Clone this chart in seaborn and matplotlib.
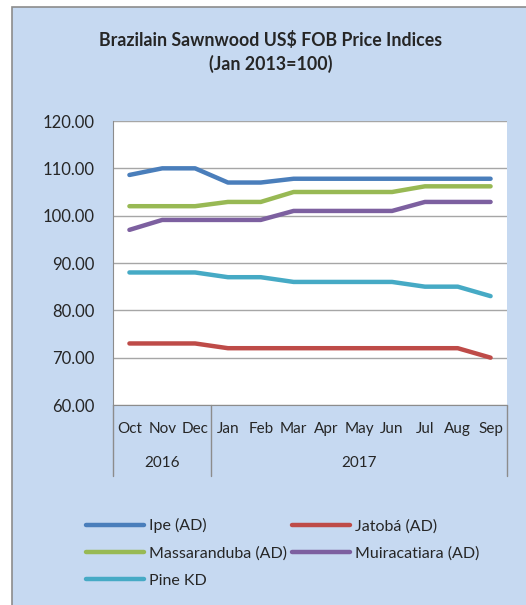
import numpy as np
import pandas as pd
import matplotlib.pyplot as plt
import matplotlib.transforms as mtransforms
from matplotlib.patches import Rectangle
import seaborn as sns

# ── data ───────────────────────────────────────
months = ["Oct", "Nov", "Dec", "Jan", "Feb", "Mar", "Apr", "May", "Jun", "Jul", "Aug", "Sep"]
years = ["2016", "2017"]
year_spans = [(0, 3), (3, 12)]

ipe          = [108.6, 110.0, 110.0, 107.0, 107.0, 107.8, 107.8, 107.8, 107.8, 107.8, 107.8, 107.8]
jatoba       = [73.0, 73.0, 73.0, 72.0, 72.0, 72.0, 72.0, 72.0, 72.0, 72.0, 72.0, 70.0]
massaranduba = [102.0, 102.0, 102.0, 102.9, 102.9, 105.0, 105.0, 105.0, 105.0, 106.2, 106.2, 106.2]
muiracatiara = [97.0, 99.1, 99.1, 99.1, 99.1, 101.0, 101.0, 101.0, 101.0, 102.9, 102.9, 102.9]
pine_kd      = [88.0, 88.0, 88.0, 87.0, 87.0, 86.0, 86.0, 86.0, 86.0, 85.0, 85.0, 83.0]

series = {
    "Ipe (AD)": ipe,
    "Jatobá (AD)": jatoba,
    "Massaranduba (AD)": massaranduba,
    "Muiracatiara (AD)": muiracatiara,
    "Pine KD": pine_kd,
}
palette = {
    "Ipe (AD)": "#4A7EBB",
    "Jatobá (AD)": "#BE4B48",
    "Massaranduba (AD)": "#98B954",
    "Muiracatiara (AD)": "#7D60A0",
    "Pine KD": "#46AAC5",
}

df = pd.DataFrame(
    [(name, i, v) for name, vals in series.items() for i, v in enumerate(vals)],
    columns=["series", "pos", "value"],
)

# ── figure ─────────────────────────────────────
sns.set_style("white")
plt.rcParams["font.family"] = ["Lato", "DejaVu Sans"]

W, H = 526, 605
fig = plt.figure(figsize=(W / 100, H / 100), dpi=100, facecolor="white")
bg = "#C6D9F1"
fig.patches.append(Rectangle((12 / W, -0.01), 1.02, 1 - 7 / H + 0.01,
                             transform=fig.transFigure, facecolor=bg,
                             edgecolor="#8C8C8C", lw=1.2, zorder=-5))

fig.text(0.515, 1 - 40 / H, "Brazilain Sawnwood US$ FOB Price Indices",
         ha="center", va="center", fontsize=12.8, fontweight="bold")
fig.text(0.515, 1 - 64 / H, "(Jan 2013=100)",
         ha="center", va="center", fontsize=12.8, fontweight="bold")

ax = fig.add_axes([113 / W, 1 - 405 / H, 394 / W, 284 / H])
ax.set_zorder(2)
ax.set_facecolor("white")

sns.lineplot(data=df, x="pos", y="value", hue="series", palette=palette,
             linewidth=3.2, ax=ax, legend=False, solid_capstyle="round")

ax.set_xlim(-0.5, len(months) - 0.5)
ax.set_ylim(60, 120)
ax.set_yticks(np.arange(60, 121, 10))
ax.set_yticklabels([f"{v:.2f}" for v in np.arange(60, 121, 10)], fontsize=12)
ax.tick_params(axis="y", length=0, pad=13)
ax.yaxis.grid(True, color="#A6A6A6", lw=1)
ax.set_axisbelow(True)
ax.set_xlabel("")
ax.set_ylabel("")

ax.set_xticks(range(len(months)))
ax.set_xticklabels(months, fontsize=11)
ax.tick_params(axis="x", length=0, pad=12)

for s in ["top", "right"]:
    ax.spines[s].set_visible(False)
ax.spines["left"].set_color("#8C8C8C")
ax.spines["bottom"].set_color("#8C8C8C")

# category group separators and year labels
trans = mtransforms.blended_transform_factory(ax.transData, ax.transAxes)
depth = -71 / 284
for (a, b), yr in zip(year_spans, years):
    ax.plot([a - 0.5, a - 0.5], [0, depth], transform=trans, color="#8C8C8C",
            lw=1, clip_on=False)
    ax.text((a + b - 1) / 2, -58 / 284, yr, transform=trans,
            ha="center", va="center", fontsize=11)
ax.plot([len(months) - 0.5] * 2, [0, depth], transform=trans, color="#8C8C8C",
        lw=1, clip_on=False)

# legend (row-major order like the original, matplotlib fills by column)
order = ["Ipe (AD)", "Massaranduba (AD)", "Pine KD", "Jatobá (AD)", "Muiracatiara (AD)"]
handles = [plt.Line2D([], [], color=palette[n], lw=3.2, solid_capstyle="round") for n in order]
leg = fig.legend(handles, order, loc="upper left",
                 bbox_to_anchor=(72 / W, 1 - 504 / H), ncol=2, frameon=False,
                 fontsize=11.5, handlelength=3.6, handletextpad=0.35,
                 columnspacing=0.3, labelspacing=0.8)

fig.savefig("out.png", dpi=100, facecolor=fig.get_facecolor())
